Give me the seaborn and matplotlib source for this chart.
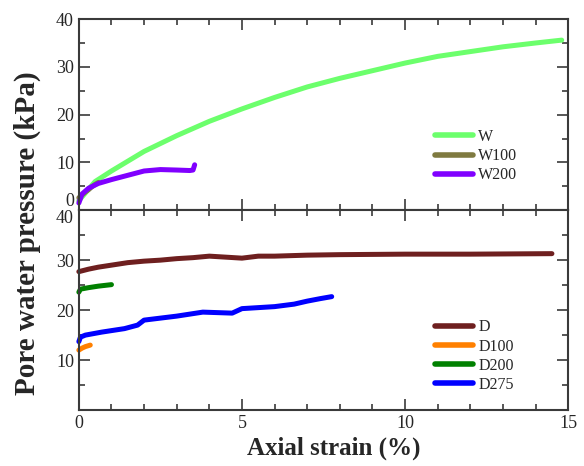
import matplotlib
matplotlib.use("Agg")
import matplotlib.pyplot as plt
import seaborn as sns
from matplotlib.ticker import MultipleLocator, FixedLocator

# ---- data ----
w_x = [0, 0.5, 1, 2, 3, 4, 5, 6, 7, 8, 9, 10, 11, 12, 13, 14, 14.8]
w_y = [2.0, 6.0, 8.2, 12.3, 15.6, 18.6, 21.2, 23.6, 25.8, 27.6, 29.2, 30.8, 32.2, 33.2, 34.2, 35.0, 35.6]

w100_x = [0, 0.1, 0.2, 0.3, 0.4, 0.5, 0.6]
w100_y = [2.6, 3.2, 3.8, 4.3, 4.9, 5.4, 5.8]

w200_x = [0, 0.1, 0.3, 0.6, 1.0, 1.5, 2.0, 2.5, 3.0, 3.4, 3.5, 3.55]
w200_y = [1.5, 3.4, 4.6, 5.6, 6.4, 7.3, 8.2, 8.5, 8.4, 8.3, 8.4, 9.5]

d_x = [0, 0.3, 0.6, 1, 1.5, 2, 2.5, 3, 3.5, 4, 5, 5.5, 6, 7, 8, 10, 12, 14.5]
d_y = [27.7, 28.2, 28.6, 29.0, 29.5, 29.8, 30.0, 30.3, 30.5, 30.8, 30.4, 30.8, 30.8, 31.0, 31.1, 31.2, 31.2, 31.3]

d100_x = [0, 0.1, 0.2, 0.35]
d100_y = [12.0, 12.4, 12.7, 13.0]

d200_x = [0, 0.05, 0.3, 0.6, 1.0]
d200_y = [23.6, 24.2, 24.5, 24.8, 25.1]

d275_x = [0, 0.05, 0.2, 0.7, 1.4, 1.8, 2.0, 3.0, 3.8, 4.7, 5.0, 6.0, 6.6, 7.0, 7.4, 7.75]
d275_y = [13.7, 14.6, 15.0, 15.6, 16.3, 17.0, 18.0, 18.8, 19.6, 19.4, 20.3, 20.7, 21.2, 21.8, 22.3, 22.7]

x_ticks = [0, 5, 10, 15]
top_yticks = [0, 10, 20, 30, 40]
bot_yticks = [10, 20, 30, 40]

sns.set_style("ticks")
plt.rcParams["font.family"] = ["Liberation Serif", "DejaVu Serif"]

fig = plt.figure(figsize=(5.84, 4.66), dpi=100)
ax1 = fig.add_axes([0.135, 0.549, 0.838, 0.410])
ax2 = fig.add_axes([0.135, 0.120, 0.838, 0.429])

lw = 3.6
top_series = [(w_x, w_y, "W", "#6CFF6C"),
              (w100_x, w100_y, "W100", "#7F7A40"),
              (w200_x, w200_y, "W200", "#8000FF")]
bot_series = [(d_x, d_y, "D", "#6E1F1F"),
              (d100_x, d100_y, "D100", "#FF8000"),
              (d200_x, d200_y, "D200", "#008000"),
              (d275_x, d275_y, "D275", "#0000FF")]

for xs, ys, lab, col in top_series:
    sns.lineplot(x=xs, y=ys, ax=ax1, color=col, lw=lw, label=lab, sort=False,
                 solid_capstyle="round", clip_on=False)
for xs, ys, lab, col in bot_series:
    sns.lineplot(x=xs, y=ys, ax=ax2, color=col, lw=lw, label=lab, sort=False,
                 solid_capstyle="round", clip_on=False)

spine_col = "#3a3a3a"
for ax in (ax1, ax2):
    ax.set_xlim(0, 15)
    ax.set_ylim(0, 40)
    ax.xaxis.set_major_locator(FixedLocator(x_ticks))
    ax.xaxis.set_minor_locator(MultipleLocator(1))
    ax.yaxis.set_minor_locator(MultipleLocator(5))
    ax.tick_params(which="both", direction="in", top=True, right=True,
                   color=spine_col, width=1.2, labelsize=13)
    ax.tick_params(which="major", length=8)
    ax.tick_params(which="minor", length=4)
    for s in ax.spines.values():
        s.set_color(spine_col)
        s.set_linewidth(1.5)
    ax.set_xlabel("")
    ax.set_ylabel("")
    leg = ax.legend(loc="center left", frameon=False, fontsize=11.5,
                    handlelength=2.4, handletextpad=0.3, labelspacing=0.2,
                    borderpad=0, borderaxespad=0)
    for h in leg.get_lines():
        h.set_linewidth(4)

ax1.legend_.set_bbox_to_anchor((0.728, 0.283), transform=ax1.transAxes)
ax2.legend_.set_bbox_to_anchor((0.728, 0.27), transform=ax2.transAxes)

ax1.yaxis.set_major_locator(FixedLocator(top_yticks))
ax1.set_xticklabels([])
ax2.yaxis.set_major_locator(FixedLocator(bot_yticks))
ax2.set_xticklabels([str(v) for v in x_ticks])
ax1.set_yticklabels([str(v) for v in top_yticks])
ax2.set_yticklabels([str(v) for v in bot_yticks])
ax1.get_yticklabels()[0].set_va("bottom")
ax2.get_yticklabels()[-1].set_va("top")

fig.text(0.572, 0.039, "Axial strain (%)", ha="center", va="center",
         fontsize=18, fontweight="bold")
fig.text(0.046, 0.50, "Pore water pressure (kPa)", ha="center", va="center",
         rotation=90, fontsize=21, fontweight="bold")

fig.savefig("out.png", dpi=100)
